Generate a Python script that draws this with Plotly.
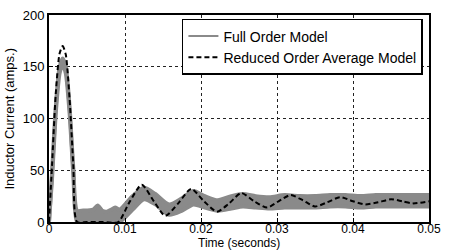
import plotly.graph_objects as go

# Full order model (switching ripple band): time, upper and lower envelopes
t_full = [0, 0.0004, 0.0009, 0.0014, 0.0018, 0.0022, 0.0027, 0.0032, 0.0037,
          0.0045, 0.0058, 0.0064, 0.0070, 0.0076, 0.0082, 0.0087, 0.0093,
          0.0110, 0.0125, 0.0140, 0.0158, 0.0175, 0.0190, 0.0205, 0.0222,
          0.0240, 0.0255, 0.0272, 0.0290, 0.0310, 0.0330, 0.0350, 0.0370,
          0.0390, 0.0410, 0.0430, 0.0450, 0.0470, 0.0500]
full_upper = [0, 48, 112, 150, 158, 150, 112, 52, 11,
              11, 12, 16, 11, 10, 12, 14, 12,
              25, 33, 27, 17, 23, 30, 25, 21,
              25, 27, 25, 24, 26, 25, 25, 26, 26, 25, 26, 26, 26, 26]
full_lower = [0, 42, 106, 144, 152, 144, 106, 46, 0,
              0, 0, 0, 0, 0, 0, 0, 0,
              12, 22, 17, 7, 11, 17, 14, 11,
              13, 15, 14, 13, 14, 14, 14, 15, 15, 14, 15, 15, 15, 15]

# Reduced order average model
t_avg = [0, 0.0004, 0.0009, 0.0014, 0.0018, 0.0022, 0.0027, 0.0032, 0.0037,
         0.0050, 0.0070, 0.0091, 0.0105, 0.0122, 0.0138, 0.0153, 0.0170,
         0.0187, 0.0204, 0.0221, 0.0237, 0.0253, 0.0270, 0.0287, 0.0302,
         0.0318, 0.0334, 0.0350, 0.0366, 0.0383, 0.0400, 0.0416, 0.0433,
         0.0450, 0.0465, 0.0479, 0.0500]
i_avg = [0, 55, 125, 163, 170, 162, 120, 55, 0,
         0, 0, 0, 18, 36, 20, 6, 18,
         32, 20, 10, 18, 28, 20, 14, 20,
         26, 21, 15, 19, 24, 20, 17, 19,
         22, 20, 18, 20]

x_ticks = [0, 0.01, 0.02, 0.03, 0.04, 0.05]
x_ticklabels = ["0", "0.01", "0.02", "0.03", "0.04", "0.05"]
y_ticks = [0, 50, 100, 150, 200]

GREY = "rgb(138,138,138)"
FONT = "Liberation Sans, Arial, sans-serif"

fig = go.Figure()
fig.add_trace(go.Scatter(x=t_full, y=full_lower, mode="lines",
                         line=dict(color=GREY, width=4, shape="spline", smoothing=0.7),
                         showlegend=False, hoverinfo="skip"))
fig.add_trace(go.Scatter(x=t_full, y=full_upper, mode="lines", fill="tonexty",
                         fillcolor=GREY,
                         line=dict(color=GREY, width=4, shape="spline", smoothing=0.7),
                         showlegend=False, hoverinfo="skip"))
fig.add_trace(go.Scatter(x=[None], y=[None], mode="lines", name="Full Order Model",
                         line=dict(color=GREY, width=2)))
fig.add_trace(go.Scatter(x=t_avg, y=i_avg, mode="lines", name="Reduced Order Average Model",
                         line=dict(color="black", width=2, dash="5px,3px",
                                   shape="spline", smoothing=0.7)))

axis_common = dict(showline=True, mirror=True, linecolor="black", linewidth=2,
                   showgrid=True, gridcolor="#222", griddash="dot", gridwidth=1,
                   ticks="inside", ticklen=4, tickcolor="black",
                   tickfont=dict(family=FONT, size=13, color="black"),
                   zeroline=False)

fig.update_xaxes(range=[0, 0.05], tickvals=x_ticks, ticktext=x_ticklabels,
                 ticklabelstandoff=-5, **axis_common)
fig.update_xaxes(tickfont=dict(family=FONT, size=12, color="black"))
fig.update_yaxes(range=[0, 200], tickvals=y_ticks, **axis_common)

fig.update_layout(
    width=449, height=250,
    margin=dict(l=49, r=20, t=8, b=28),
    plot_bgcolor="white", paper_bgcolor="white",
    font=dict(family=FONT, color="black"),
    legend=dict(x=0.984, y=0.981, xanchor="right", yanchor="top",
                traceorder="normal",
                bgcolor="white", bordercolor="black", borderwidth=1.5,
                font=dict(family=FONT, size=14, color="black"),
                tracegroupgap=0, itemwidth=30),
    annotations=[
        dict(text="Time (seconds)", x=0.5, y=-0.101, xref="paper", yref="paper",
             xanchor="center", yanchor="middle", showarrow=False,
             font=dict(family=FONT, size=12, color="black")),
        dict(text="Inductor Current (amps.)", x=-0.105, y=0.5, xref="paper", yref="paper",
             xanchor="center", yanchor="middle", showarrow=False, textangle=-90,
             font=dict(family=FONT, size=13, color="black")),
    ],
)

fig.write_html("out.html")
